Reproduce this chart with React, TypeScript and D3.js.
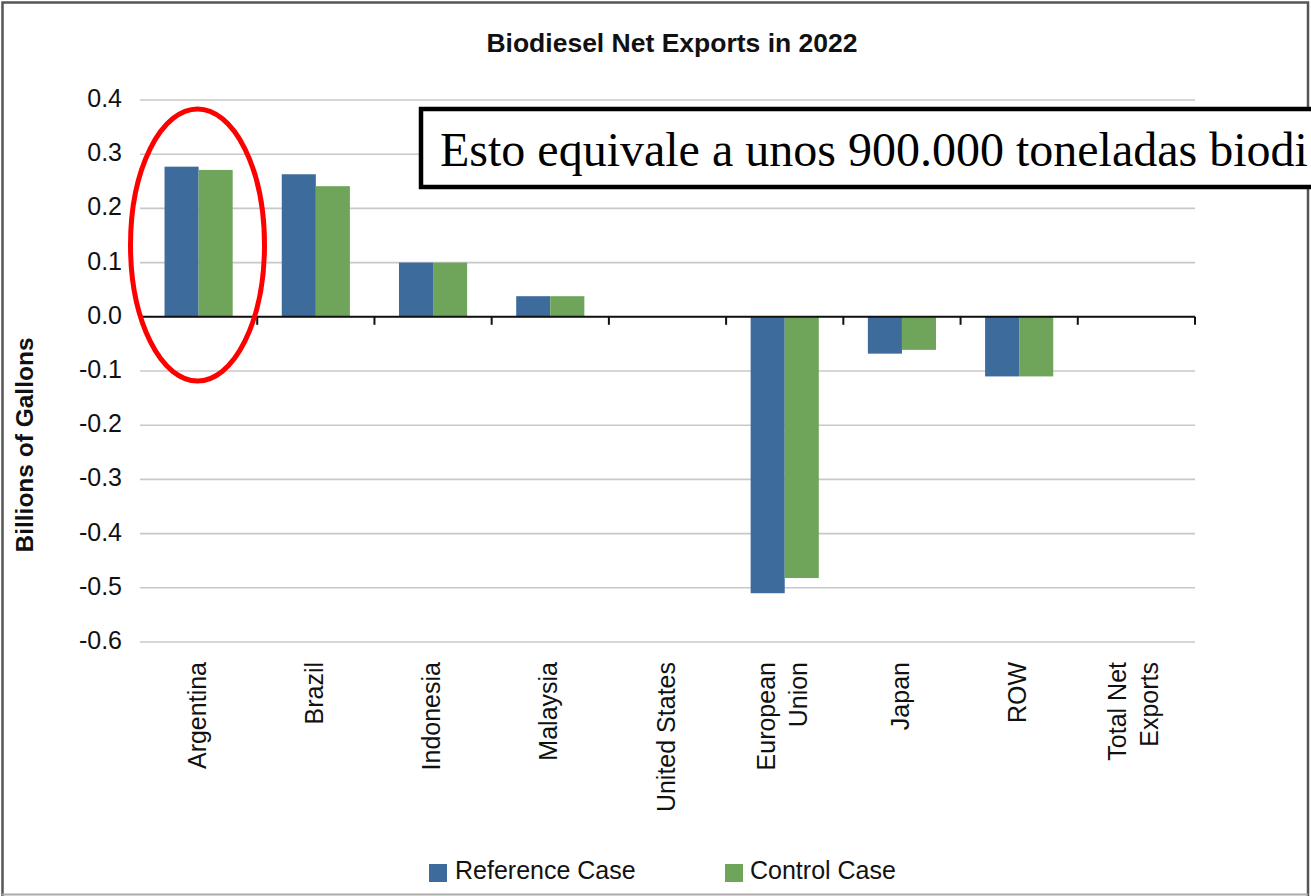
import React from "react";
import * as d3 from "d3";

const categories: string[][] = [
  ["Argentina"],
  ["Brazil"],
  ["Indonesia"],
  ["Malaysia"],
  ["United States"],
  ["European", "Union"],
  ["Japan"],
  ["ROW"],
  ["Total Net", "Exports"],
];
const referenceCase = [0.277, 0.263, 0.1, 0.038, 0, -0.51, -0.068, -0.11, 0];
const controlCase = [0.271, 0.241, 0.1, 0.038, 0, -0.482, -0.061, -0.11, 0];
const yTicks = [0.4, 0.3, 0.2, 0.1, 0.0, -0.1, -0.2, -0.3, -0.4, -0.5, -0.6];
const seriesNames = ["Reference Case", "Control Case"];
const seriesColors = ["#3d6b9c", "#6fa55a"];

const W = 1311;
const H = 896;
const X0 = 140;
const X1 = 1195;
const YTOP = 100;
const YBOT = 642;

export default function App() {
  const keys = categories.map((c) => c.join(" "));
  const x = d3.scaleBand<string>().domain(keys).range([X0, X1]).padding(0);
  const xs = d3
    .scaleBand<string>()
    .domain(seriesNames)
    .range([0, x.bandwidth()])
    .paddingInner(0)
    .paddingOuter(0.72);
  const y = d3.scaleLinear().domain([-0.6, 0.4]).range([YBOT, YTOP]);
  const data = [referenceCase, controlCase];
  const font = "Arial, 'Liberation Sans', sans-serif";
  const tickEdges = d3.range(keys.length + 1).map((i) => X0 + i * x.step());

  return (
    <svg
      width={W}
      height={H}
      style={{ position: "fixed", left: 0, top: 0, background: "#fff" }}
    >
      <rect x={0} y={0} width={W} height={H} fill="#fff" />
      {/* outer border */}
      <path d={`M2.5,${H} V2.5 H1308 V${H}`} fill="none" stroke="#555" strokeWidth={2.5} />
      <line x1={2} x2={1308} y1={894.5} y2={894.5} stroke="#aaa" strokeWidth={2} />

      {/* title */}
      <text x={672} y={52} textAnchor="middle" fontFamily={font} fontWeight="bold" fontSize={26.5} fill="#111">
        Biodiesel Net Exports in 2022
      </text>

      {/* gridlines */}
      {yTicks.map((t) => (
        <line key={t} x1={X0} x2={X1} y1={y(t)} y2={y(t)} stroke="#c8c8c8" strokeWidth={1.6} />
      ))}

      {/* y tick labels */}
      {yTicks.map((t) => (
        <text key={"l" + t} x={122} y={y(t) + 7} textAnchor="end" fontFamily={font} fontSize={25} fill="#111">
          {t.toFixed(1)}
        </text>
      ))}

      {/* y axis title */}
      <text
        transform={`translate(33,445) rotate(-90)`}
        textAnchor="middle"
        fontFamily={font}
        fontWeight="bold"
        fontSize={24.5}
        fill="#111"
      >
        Billions of Gallons
      </text>

      {/* bars */}
      {keys.map((k, i) =>
        seriesNames.map((s, j) => {
          const v = data[j][i];
          const y0 = y(0);
          const yv = y(v);
          return (
            <rect
              key={k + s}
              x={(x(k) as number) + (xs(s) as number)}
              y={Math.min(y0, yv)}
              width={xs.bandwidth()}
              height={Math.abs(yv - y0)}
              fill={seriesColors[j]}
            />
          );
        })
      )}

      {/* zero axis */}
      <line x1={X0} x2={X1} y1={y(0)} y2={y(0)} stroke="#111" strokeWidth={2} />
      {tickEdges.slice(1).map((tx, i) => (
        <line key={"t" + i} x1={tx} x2={tx} y1={y(0)} y2={y(0) + 8} stroke="#111" strokeWidth={2} />
      ))}

      {/* category labels */}
      {categories.map((lines, i) => {
        const cx = (x(keys[i]) as number) + x.bandwidth() / 2;
        return lines.map((ln, li) => {
          const off = lines.length === 1 ? 0 : li === 0 ? -17 : 15;
          return (
            <text
              key={keys[i] + li}
              transform={`translate(${cx + off + 7},662) rotate(-90)`}
              textAnchor="end"
              fontFamily={font}
              fontSize={25}
              fill="#111"
            >
              {ln}
            </text>
          );
        });
      })}

      {/* legend */}
      <rect x={429} y={864} width={18} height={18} fill={seriesColors[0]} />
      <text x={455} y={879} fontFamily={font} fontSize={25} fill="#111">
        {seriesNames[0]}
      </text>
      <rect x={725} y={864} width={18} height={18} fill={seriesColors[1]} />
      <text x={750} y={879} fontFamily={font} fontSize={25} fill="#111">
        {seriesNames[1]}
      </text>

      {/* annotation box */}
      <rect x={421} y={109} width={1000} height={78} fill="#fff" stroke="#000" strokeWidth={4.5} />
      <text x={440} y={166} fontFamily="'Times New Roman', 'Liberation Serif', serif" fontSize={48} fill="#000">
        Esto equivale a unos 900.000 toneladas biodi
      </text>

      {/* red ellipse */}
      <ellipse cx={197.5} cy={245} rx={67} ry={136} fill="none" stroke="#ff0000" strokeWidth={5} />
    </svg>
  );
}
